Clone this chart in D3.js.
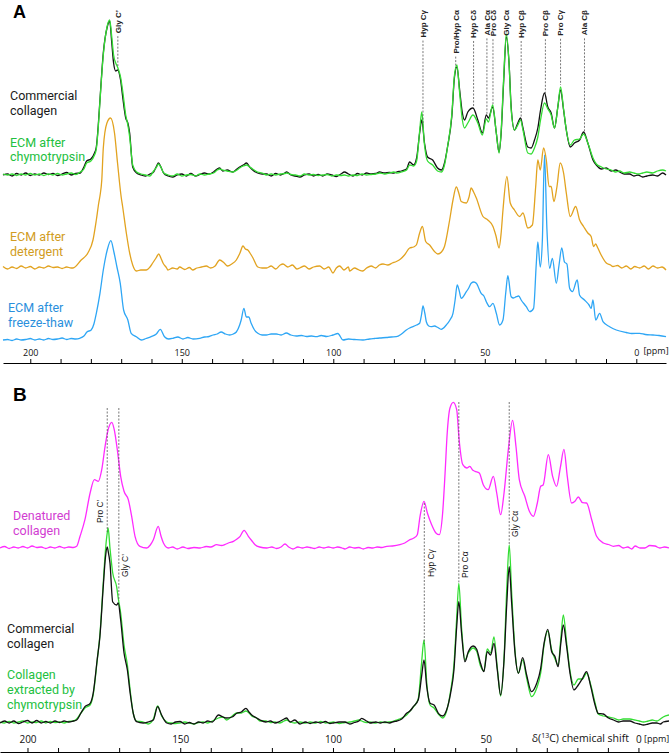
<!DOCTYPE html>
<html>
<head>
<meta charset="utf-8">
<script src="https://cdn.jsdelivr.net/npm/d3@7"></script>
<style>
  body { margin: 0; background: #fff; }
  svg { display: block; }
  .legend { font-family: Roboto, "Open Sans", sans-serif; font-size: 12.5px; }
  .peakA { font-family: "Liberation Sans", Arial, sans-serif; font-size: 8px; font-weight: bold; fill: #222; }
  .peakB { font-family: "Liberation Sans", Arial, sans-serif; font-size: 8.5px; fill: #111; }
</style>
</head>
<body>
<div id="chart"></div>
<script>
// ---------- Panel A: commercial collagen vs ECM after chymotrypsin ----------
const ppmA = [209,207.5,206,204.5,203,201.5,200,198.5,197,195.5,194,192.5,191,189.5,188,186.5,185,183.5,182.3,181.4,
  180,178.8,178.2,177.6,177,175.9,174.6,173.8,173.1,172.5,171.8,171.2,170.2,169.5,168.5,167.8,167.2,166.2,164.9,163.5,
  162,160.5,159.3,158.3,157.7,156.9,156,154.5,153,151.5,150,148.5,147,145.5,144,142.5,141,139.5,138.3,137.5,
  136.5,135,133.2,131.8,130.9,129.7,128.6,127.6,126.6,125,123.5,122,120.5,119,117.5,116,115.4,114,112.5,111,
  109.5,108,106.5,105,103.5,102,100.5,99,97.5,96.3,95,93.5,92,90.5,89,87.5,86,84.7,83,81.5,
  80,79.1,77.5,75.8,74.8,73.5,72.5,71.5,70.8,69.9,68.9,67.2,65.6,64.3,63.3,62.3,60.9,60,59.2,58.3,
  57.4,56.7,55.6,53.9,52.3,50.8,49.5,48.8,47.4,46.2,45.3,44.6,43.8,42.9,42,41.3,40.2,39.1,38.2,37.4,
  35.8,34.7,33.6,32.5,31.6,30.3,29.2,28.1,27,25.9,25,24,23.1,21.8,20.4,18.7,17.4,16,14.3,13.2,
  11.5,9.9,8.3,6.8,5.5,4,2.2,0.8,-0.6,-2.1,-3.5,-5.4,-7,-8.7,-9.8];
const commercialA = [0,1,-1,1.5,0,2,-0.5,1,0,2,0.5,1.5,-0.5,1,2.5,0,1.5,2,8,14,
  16,22,28,48,75,122,148,154,132,112,104,105,95,78,57,52,42,8,2,0,
  -1,1,3,9,12,8,2,-1,-2,0,1,-1,1.5,-1,0.5,2,1,3,6,7,
  4,5,3,6,8,10,12,8,5,2,1,1,-1,1.5,0,2,3,0,-1,-2,
  0,1,-1,0.5,-1,1,0,-1.5,1,3,1,-1,1.5,0,2,1,1.5,3,2,2.5,
  2,3,4,6,13,10,17,42,55,32,18,15,7,5,12,28,58,98,108,85,
  62,55,63,67,55,42,60,57,68,42,23,42,92,138,112,68,45,52,57,47,
  28,27,35,47,65,82,68,62,47,68,85,65,45,28,32,35,43,32,15,10,
  6,7,4,5,3,1,1,-1,0,-2,-1,0,-1,2,0];
const chymoA = [1,0,1,-0.5,1,0,1.5,0,1,-0.5,1,0,1.5,0,1,2,0.5,3,6,12,
  14,20,26,46,74,120,149,155,138,120,112,108,98,84,60,50,38,10,3,1,
  0,-1,4,8,11,8,2,0,-1,1,-1,0,0.5,-1,1,0,1,2,5,6,
  5,4,3,5,7,9,10,8,6,3,2,0,1,0,1,1.5,2,0.5,0,-1,
  1,0,0.5,-0.5,0,0.5,-1,0,-0.5,0,-1,0,-0.5,1,0,0.5,1,2,1,2,
  3,2,3,5,10,9,14,44,63,30,14,10,4,3,10,28,60,100,110,82,
  55,47,52,60,52,40,56,53,70,42,22,44,95,141,112,66,45,50,55,45,
  22,21,27,38,55,72,66,60,47,68,88,66,45,30,35,36,41,32,17,11,
  8,6,5,3,4,2,3,2,1,2,3,2,4,5,4];

// ---------- Panel A: ECM after detergent ----------
const ppmDet = [209,207.5,206,204.5,203,201.5,200,198.5,197,195.5,194,192.5,191,189.5,188,186.5,185.9,183.2,181,179.3,
  178.2,177.4,177,176.4,175.9,174.7,173.5,172.2,171.2,170,169.5,168.3,167.2,166.2,165,163.5,161.7,160.5,159.6,158.5,
  157.6,156.9,156.2,155,154.6,153,151.5,150.7,149,147.5,146.4,145,143.5,141.9,140.5,139,137.5,136,134.9,133.5,
  132,130.8,129.8,129,128.2,127.3,126.5,124.9,123.5,122,120.5,119,117.5,116.6,115,113.5,112,111.1,109.5,108,
  106.5,104.5,103,101.5,100.1,99,97.9,96.5,95,94.6,93,91.5,90.3,89,87.5,86,84.8,83.6,82,80.5,
  79.2,77.8,76.5,74.8,73.5,72.6,71.5,70.6,69.5,68.2,66.6,65.5,64.3,63.3,61.6,60.5,59.4,58.5,57.8,56.1,
  55.2,54.5,53.7,52.8,50.6,49,47.3,46.3,45.3,44.6,44,42.7,41.6,40.2,38.5,37.4,35.8,34.3,33.2,32.5,
  31.7,30.6,29.7,28.8,28.1,27.2,26.2,25.1,24,23.1,21.8,20,18.7,17.4,16,14.9,14.1,13.4,12.7,11.6,
  9.9,8.5,7.7,6.2,4.8,3.3,1.8,0.5,-1.1,-2.6,-4,-5.5,-7,-8.5,-9.8];
const detergent = [1.5,-1,1,-0.5,2,0,1.5,-1,1,0,2,0.5,1,-0.5,1,0,0,8,15,28,
  48,65,72,88,120,145,150,135,105,71,61,35,15,3,-3,-2,-2,1,5,10,
  14,10,5,0,-2,0,-1,1,-1.5,0.5,-2,0,1,2,0,2,8,5,2,4,
  8,15,22,19,18,14,10,1,0,0,2,-1,3,4,1,3,-1,0,2,-1,
  1,2,-1,1,-5,0,2,-2,1,-3,0,-2,-3,0,2,0,3,4,3,5,
  6.5,9,13,20,21,23,35,41.5,26.5,23,16.5,14,16,21.5,48,68,81,74,66.5,65,
  71,80,76,70,51.5,48,41.5,32,20,35,58,91.5,65,58,51.5,55,40,43,81.5,108,
  98,120,108,81.5,81.5,66.5,81,105,95,75,51.5,61.5,48,41.5,35,31.5,21.5,24,20,13,
  5,3,1.5,2.5,0,2,-1,1.5,0,2,-1,2,0,1,-2];

// ---------- Panel A: ECM after freeze-thaw ----------
const ppmFT = [209,207.5,206,204.5,203,201.5,200,198.5,197,195.5,194,192.5,191,189.5,188,186.5,185,183.7,182.3,181.3,
  179.9,179,178.2,177,175.9,174.6,173.4,172.4,171.4,170.3,169.2,167.8,166.7,165,163.4,161.8,160.1,158.4,157.1,155.7,
  154.3,152.9,151.3,149.6,148,146.3,144.1,142.5,141,139.7,138.3,137,135.6,134.2,133,132,130.9,130.4,129.5,128.7,
  127.9,127.1,126,124.9,123.5,122.1,120.5,118.8,117.2,115.5,114,112.2,110.5,108.8,107.2,105.6,104,102.2,100.1,98.5,
  96.8,95,93,90.2,88,86.4,84.7,82.5,80.8,79.2,77.5,75.9,74.8,73.7,72.5,71.5,70.9,70.4,69.8,69.3,
  68.5,67.7,66.6,65.5,64.4,62.7,61.5,60.5,59.8,59.1,58.5,57.8,56.1,55.3,54.5,53.6,52.8,51.2,50.3,49.5,
  48.4,47.3,46.2,45.1,44,43.1,42.4,41.3,40.5,39.6,38.8,38,36.3,35.2,33.9,33,32.5,31.7,31,30.3,
  29.5,28.6,27.7,26.4,25.5,24.6,23.7,22.9,22,21.1,19.5,18.7,17.1,15.6,14.9,14.3,13.4,12.1,11,8.8,
  6.6,3.3,1.5,-1.1,-3,-5.5,-7.5,-9.8];
const freezeThaw = [0,0.5,-0.5,1,0,0.5,1.5,0,1,0,1.5,0.5,1,2,0.5,1.5,1,1.7,4,8,
  10,16,26.7,46.7,70,90,99.3,88,73,56.7,30,20,6.7,3.3,0,1.5,3.3,6,10.7,3.3,
  1,1.7,3,1,2.5,1,1.7,3,3.5,5,6,8,6,5,6,8,15,20,31.7,23,
  23,16.7,10,6.7,5,5,6,6,5,7,5,4,4.5,3.5,4,3.3,4.5,3.5,5,6.5,
  0,1,0.5,0,1,1.5,2,2.5,3,3.3,6,10,12,13.3,15,16.7,25,34,27,18.3,
  14,13.3,14,12.5,10.7,15,20,26.7,40,55,50,41.7,48.3,52,56.7,58,56.7,46.7,44,38.3,
  33.3,36.7,26.7,15,20,46.7,64.3,43.3,42,43.3,44,40,33.3,28.3,31.7,76.7,98,73,100,185,
  111,71.7,81.7,56.7,75,92,78,76,51.7,48.3,60,44.7,40,35,31.7,40,20,26.7,18.3,13.3,
  10,7.5,6.5,6.7,5.5,5,4.5,3.3];

// ---------- Panel B: denatured collagen ----------
const ppmDen = [209,207.5,206,204.5,203,201.5,200,198.5,197,195.5,194,192.5,191,189.5,188,186.5,185,183.9,182.8,181.2,
  179.5,178.1,176.8,175.7,174.6,173.6,172.4,171.6,170.6,169.5,168.4,167,165.9,164.8,163.2,161,159.8,158.8,157.2,156.3,
  155.5,153.9,152.5,151,149.1,147.5,145.5,143.5,141.5,140,138.1,136.5,135,133.8,132.6,131.4,130.4,129.1,127.7,126.5,
  125.5,124,121.7,120,118.5,117,115.7,114.5,113.1,111.5,110,108.5,107.5,106,104.5,103,101.5,99.9,98.5,97,
  96.1,94.5,93,91.5,90.1,88.5,87,85.5,84,82.4,80.5,78.1,76.5,74.8,73.5,72.4,71.5,70.2,69.1,67.7,
  66.3,65.2,64.1,63.3,62.6,61.7,60.6,59.5,58.7,57.5,56.2,55.2,54.3,53.5,52.1,50.8,49.2,47.5,46.4,45.1,
  44,42.6,41.2,40.1,39,37.2,35.7,34.4,33.1,32,31.2,29.5,28.1,26.8,25.5,24.4,23.3,21.9,20.8,19.7,
  18.3,17,15.3,13.7,11.5,9.8,8.2,6.5,5,3.5,2.2,1.1,-0.5,-2.1,-3.7,-5.4,-7,-8.5,-10];
const denatured = [0,1.5,-0.5,1,0,1.5,0,2,0.5,1,-0.5,1,0,1.5,0,1,0.5,1.7,11.7,28.3,
  55,68.3,66.7,78.3,101.7,118.3,125.7,118.3,98.3,71.7,56.7,48.3,31.7,11.7,1.7,0,3,8.3,21.7,12,
  5,0,1,-1,1,-0.5,0.5,0,1.5,1,3.3,2.5,4,5.5,6.7,9,11.7,17.7,11.7,7,
  3.3,1,0,1,-0.5,1,4,1,-1,1,0,1,0.5,-0.5,1,0,1,0,1,0,
  -1,1,0,0.5,-1,0.5,0,1,0.5,1.7,2,3.3,5,8.3,10,13.3,31.7,46.7,35,23.3,
  15,13.3,35,75,115,140,145.7,138.3,108.3,83.3,80,81.7,78,76.7,75,63.3,58.3,71.7,55,33.3,
  55,98.3,127.7,101.7,68.3,51.7,36.7,31.7,45,61.7,63,93.3,71.7,61.7,81.7,98.7,71.7,45,46.7,51,
  45.3,45,28.3,11.7,5,3.5,1.7,2.5,0,1,-1,2,0,0,2.5,2,0,1,0];

// ---------- Panel B: commercial collagen vs collagen extracted by chymotrypsin ----------
const ppmB = [209,207.5,206,204.5,203,201.5,200,198.5,197,195.5,194,192.5,191,189.5,188,186.5,185,183.9,182.5,181.2,
  179.5,178.5,177.2,176.3,175.2,174.5,173.9,173.6,173,172.1,170.8,170.3,169.5,168.4,167.3,166.4,165.4,164.3,162.1,160.5,
  158.8,157.4,156.1,154.4,153,151.5,150.1,148.5,147,145.5,144,142.5,141,139.5,137.5,136,134.8,133,131.5,130,
  128.5,127.5,126.6,125,123.9,122,120.5,119,117.5,116,115.2,114,112.5,110.8,109,107.5,105.6,104,102.5,101,
  99.9,98,96.1,94.5,93,91.5,90.6,89,87.9,86,84.5,83,81.5,80,79.1,77.5,75.9,74.8,73.7,72.1,
  71,70.2,69.3,68.2,66.9,65.5,64.1,62.8,61.5,60.4,59.5,58.8,57.9,56.8,55.7,54.1,53,51.7,50.6,49.5,
  48.4,47.3,46.2,45.1,44,43.1,42.3,41.5,40.4,39.3,37.9,36.6,35,33.3,32,30.9,29.7,28.4,27.3,26.3,
  25.4,24.6,23.5,22.4,21.1,19.7,18.3,17,15.6,14.2,13.2,11.5,9.8,8.2,6.5,5,2.8,1.2,-0.3,-1.6,
  -3.2,-4.5,-6,-7.2,-8.1,-10];
const commercialB = [0,2,0,2,-0.5,1,2.5,0,2.5,0,1.5,0,2,0.5,2,1,2,3,10,16.3,
  19.7,29.7,63,86.3,136.3,165,176,172,160,121,118,120,103,70,53,30,10,1.3,0,1,
  3,16.3,8,0,-1,1,1.5,-1,0.5,-1,1,0,2,1,8,6,5,6,9.7,11,
  14.7,11,8,5,3,1,2,0,1.5,4,5,1,3,-1,1,-0.5,1,0,1.5,-0.5,
  0,1,1,-1,0.5,2,4.7,2,0,1,0,1,0,1.5,2,4,9.7,12,16.3,23,
  46.3,63,36.3,19.7,18,9.7,7,13,29.7,53,96.3,121.3,89.7,61.3,71.3,77,74,59.7,51.3,71.3,
  68,79.7,53,28,63,119.7,156.3,119.7,69.7,49.7,65.3,48,31.3,39.7,54.7,79.7,93.7,71.3,66.3,56.3,
  80,98,76.3,49.7,33,38,44.7,51.3,36.3,18,9.7,9,5,3,1,2,2,0,-1,-2,
  -1,0,0,-1,1,2];
const extractedB = [1,0,1.5,0,1,2,0,1,0.5,2,0,1.5,0.5,1,0,1.5,2,4,10,15,
  18,28,62,88,140,172,190,195,175,150,136,125,110,78,58,33,10,2,1,-1,
  4,17,7,1,0,-0.5,0,1,0,-1,0.5,1,0,2,5,6,3,7,10,10,
  12,10,7,5,2,2,0.5,1,0,2,3,1,0,1,0,1,0,1.5,0,0.5,
  1,-0.5,0.5,1,2,3,2,0.5,1,0,1,0.5,1,2,3,5,8,12,16,24,
  60,83,40,18,15,9,5,12,32,58,105,139.7,95,63,70,75,72,57,52,74,
  70,86,55,27,65,135,178,130,72,50,63,45,26.3,35,50,78,92,73,64,58,
  85,108,80,52,38,44,44,50,38,20,9,7,6,5,3,4,4,3,2,1,
  2,3,2,4,6,8];

// stacking offsets (intensity units)
const offsetsA = { collagen: 165, detergent: 72, freezeThaw: 0 };
const offsetsB = { denatured: 175, collagen: 0 };

// peak assignments
const peaksA = [["Gly C\u2019",171.1],["Hyp C\u03b3",70.4],["Pro/Hyp C\u03b1",59.6],["Hyp C\u03b4",53.7],["Ala C\u03b1",49.3],
  ["Pro C\u03b4",47.3],["Gly C\u03b1",42.9],["Hyp C\u03b2",38.0],["Pro C\u03b2",30.0],["Pro C\u03b3",25.0],["Ala C\u03b2",17.1]];
const peaksB = [["Pro C\u2019",173.9],["Gly C\u2019",170.1],["Hyp C\u03b3",70.1],["Pro C\u03b1",58.8],["Gly C\u03b1",42.3]];
// where each B label sits: [line top, text bottom, text side offset]
const peaksBLayout = [[408,523,-7],[408,577,6],[503,577,7],[402,578,6],[402,537,6]];

const axisTicks = d3.range(200, -1, -10);

const W = 669, H = 754;
const svg = d3.select("#chart").append("svg").attr("width", W).attr("height", H);

const xA = d3.scaleLinear().domain([209, -9.8]).range([3, 666]);
const xB = d3.scaleLinear().domain([209, -10]).range([0, 669]);
const yA = d3.scaleLinear().domain([0, 340]).range([340, 0]);
const yB = d3.scaleLinear().domain([0, 340]).range([723, 383]);

function drawTrace(x, y, ppm, vals, offset, color) {
  const line = d3.line()
    .x((d, i) => x(ppm[i]))
    .y(d => y(d + offset))
    .curve(d3.curveMonotoneX);
  svg.append("path")
    .datum(vals)
    .attr("fill", "none")
    .attr("stroke", color)
    .attr("stroke-width", 1.3)
    .attr("stroke-linejoin", "round")
    .attr("d", line);
}

function valueAt(ppm, vals, p) {
  for (let i = 0; i < ppm.length - 1; i++) {
    if (ppm[i] >= p && ppm[i + 1] <= p) {
      const t = (ppm[i] - p) / (ppm[i] - ppm[i + 1]);
      return vals[i] + t * (vals[i + 1] - vals[i]);
    }
  }
  return 0;
}

function dashed(x, y1, y2) {
  svg.append("line")
    .attr("x1", x).attr("x2", x).attr("y1", y1).attr("y2", y2)
    .attr("stroke", "#555").attr("stroke-width", 0.8)
    .attr("stroke-dasharray", "2,1.5");
}

// one text element per legend block, one tspan per line
function legend(lines, x, y0, color) {
  const t = svg.append("text").attr("class", "legend")
    .attr("x", x).attr("y", y0).attr("fill", color);
  lines.forEach((s, i) => {
    t.append("tspan").attr("x", x).attr("dy", i === 0 ? 0 : 14.8).text(s);
  });
}

// =============================
// PANEL A
// =============================
drawTrace(xA, yA, ppmDet, detergent, offsetsA.detergent, "#e2a320");
drawTrace(xA, yA, ppmFT, freezeThaw, offsetsA.freezeThaw, "#2ea6f5");
drawTrace(xA, yA, ppmA, commercialA, offsetsA.collagen, "#111");
drawTrace(xA, yA, ppmA, chymoA, offsetsA.collagen, "#33dd33");

const axA = svg.append("g")
  .attr("transform", "translate(0,363)")
  .call(d3.axisTop(xA).tickValues(axisTicks).tickSize(4).tickSizeOuter(0).tickPadding(3)
    .tickFormat(d => d % 50 === 0 ? d : ""));
axA.selectAll("text").attr("font-family", "Open Sans, sans-serif").attr("font-size", 9).attr("fill", "#111");
svg.append("text").attr("x", 656).attr("y", 354).attr("text-anchor", "middle")
  .attr("font-family", "Open Sans, sans-serif").attr("font-size", 9).attr("fill", "#111").text("[ppm]");

peaksA.forEach(([name, p]) => {
  const x = xA(p);
  const t = svg.append("text").attr("class", "peakA")
    .attr("transform", `translate(${x},10) rotate(-90)`)
    .attr("text-anchor", "end").attr("dy", "0.35em").text(name);
  const top = 10 + t.node().getComputedTextLength() + 3;
  const v = Math.max(valueAt(ppmA, commercialA, p), valueAt(ppmA, chymoA, p));
  const bottom = yA(v + offsetsA.collagen) - 2;
  if (bottom > top + 2) dashed(x, top, bottom);
});

svg.append("text").attr("x", 13).attr("y", 17.5).attr("font-family", "Liberation Sans, Arial, sans-serif")
  .attr("font-weight", "bold").attr("font-size", 18).text("A");
legend(["Commercial", "collagen"], 10, 100, "#1a1a1a");
legend(["ECM after", "chymotrypsin"], 10, 146.5, "#22c040");
legend(["ECM after", "detergent"], 10, 241, "#d19c22");
legend(["ECM after", "freeze-thaw"], 8, 311.7, "#2a8fdc");

// =============================
// PANEL B
// =============================
drawTrace(xB, yB, ppmDen, denatured, offsetsB.denatured, "#ff2bff");
drawTrace(xB, yB, ppmB, extractedB, offsetsB.collagen, "#33dd33");
drawTrace(xB, yB, ppmB, commercialB, offsetsB.collagen, "#111");

const axB = svg.append("g")
  .attr("transform", "translate(0,752)")
  .call(d3.axisTop(xB).tickValues(axisTicks).tickSize(4).tickSizeOuter(0).tickPadding(5)
    .tickFormat(d => d % 50 === 0 ? d : ""));
axB.selectAll("text").attr("font-family", "Open Sans, sans-serif").attr("font-size", 10).attr("fill", "#111");
svg.append("text").attr("x", 644).attr("y", 742).attr("text-anchor", "start")
  .attr("font-family", "Open Sans, sans-serif").attr("font-size", 9).attr("fill", "#111").text("[ppm]");
svg.append("text").attr("x", 629).attr("y", 742).attr("text-anchor", "end")
  .attr("font-family", "Open Sans, sans-serif").attr("font-size", 10.5).attr("fill", "#111")
  .html("\u03b4(<tspan baseline-shift='super' font-size='7'>13</tspan>C) chemical shift");

peaksB.forEach(([name, p], i) => {
  const [lineTop, textBottom, side] = peaksBLayout[i];
  const x = xB(p);
  const v = Math.max(valueAt(ppmB, commercialB, p), valueAt(ppmB, extractedB, p));
  dashed(x, lineTop, yB(v + offsetsB.collagen) - 1);
  svg.append("text").attr("class", "peakB")
    .attr("transform", `translate(${x + side},${textBottom}) rotate(-90)`)
    .attr("text-anchor", "start").attr("dy", "0.35em").text(name);
});

svg.append("text").attr("x", 13).attr("y", 401).attr("font-family", "Liberation Sans, Arial, sans-serif")
  .attr("font-weight", "bold").attr("font-size", 19).text("B");
legend(["Denatured", "collagen"], 13, 520, "#d23cd2");
legend(["Commercial", "collagen"], 7, 632.7, "#1a1a1a");
legend(["Collagen", "extracted by", "chymotrypsin"], 7, 679, "#22c040");
</script>
</body>
</html>
